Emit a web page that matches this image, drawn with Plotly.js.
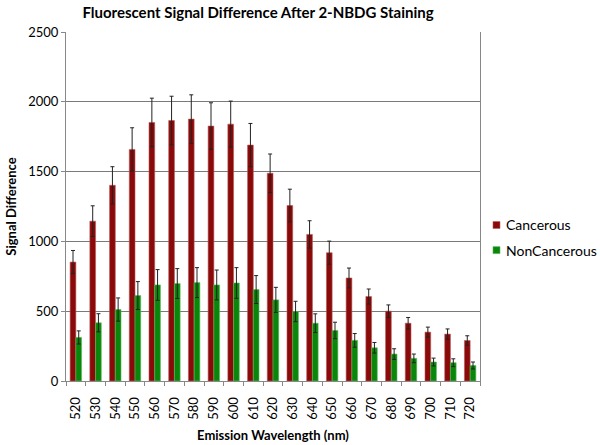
<!DOCTYPE html>
<html>
<head>
<meta charset="utf-8">
<script src="https://cdn.plot.ly/plotly-3.0.1.min.js"></script>
<style>html,body{margin:0;padding:0;background:#fff;}#chart{width:600px;height:445px;}</style>
</head>
<body>
<div id="chart"></div>
<script>
var wavelengths = ["520","530","540","550","560","570","580","590","600","610","620","630","640","650","660","670","680","690","700","710","720"];
var cancerous = [852,1145,1402,1659,1852,1866,1876,1826,1840,1690,1488,1257,1050,919,738,605,500,414,350,336,290];
var cancerousErr = [83,110,133,155,174,174,174,167,165,155,138,117,98,83,71,54,45,41,36,37,34];
var nonCancerous = [312,417,512,612,688,698,705,688,702,655,581,498,414,362,291,238,193,162,136,131,111];
var nonCancerousErr = [47,65,83,100,110,107,107,107,110,100,90,73,67,59,49,38,38,31,28,28,25];
var seriesNames = ["Cancerous", "NonCancerous"];
var seriesColors = ["#8a0a0a", "#0a870a"];
var seriesEdge = ["#b85a5a", "#5cb85c"];

var font = "Lato, 'Open Sans', sans-serif";

var traces = [
  {type:"bar", name:seriesNames[0], x:wavelengths, y:cancerous,
   marker:{color:seriesColors[0], line:{color:seriesEdge[0], width:0.6}},
   error_y:{type:"data", array:cancerousErr, visible:true, color:"#222", thickness:1, width:2}},
  {type:"bar", name:seriesNames[1], x:wavelengths, y:nonCancerous,
   marker:{color:seriesColors[1], line:{color:seriesEdge[1], width:0.6}},
   error_y:{type:"data", array:nonCancerousErr, visible:true, color:"#222", thickness:1, width:2}}
];

// manual legend (placed in the right margin without shrinking the plot)
var legendY = [0.447, 0.375];
var shapes = [], annotations = [];
for (var i = 0; i < seriesNames.length; i++) {
  shapes.push({type:"rect", xref:"paper", yref:"paper", x0:1.0314, x1:1.0483, y0:legendY[i]-0.010, y1:legendY[i]+0.010,
               fillcolor:seriesColors[i], line:{color:seriesEdge[i], width:0.6}});
  annotations.push({xref:"paper", yref:"paper", x:1.058, y:legendY[i], xanchor:"left", yanchor:"middle",
                    text:seriesNames[i], showarrow:false, font:{family:font, size:14, color:"#000"}});
}

var layout = {
  width:600, height:445,
  margin:{l:66, r:120, t:32, b:64},
  paper_bgcolor:"#fff", plot_bgcolor:"#fff",
  font:{family:font, size:12, color:"#000"},
  title:{text:"<b>Fluorescent Signal Difference After 2-NBDG Staining</b>", font:{family:font, size:15, color:"#000"}, x:0.43, xanchor:"center", y:0.972, yanchor:"middle"},
  barmode:"group", bargap:0.42, bargroupgap:0,
  showlegend:false,
  shapes:shapes, annotations:annotations,
  xaxis:{type:"category", tickangle:-90, showline:true, linecolor:"#888", linewidth:1, mirror:false,
         ticks:"outside", tickson:"boundaries", ticklen:4, tickcolor:"#888", showgrid:false,
         ticklabelstandoff:10, automargin:false,
         tickfont:{family:font, size:13, color:"#000"},
         title:{text:"<b>Emission Wavelength (nm)</b>", font:{family:font, size:13, color:"#000"}, standoff:12}},
  yaxis:{range:[0,2500], dtick:500, showline:true, linecolor:"#888", linewidth:1, mirror:true,
         ticks:"outside", ticklen:4, tickcolor:"#888", showgrid:true, gridcolor:"#7a7a7a", gridwidth:1,
         zeroline:false, tickfont:{family:font, size:13, color:"#000"},
         title:{text:"<b>Signal Difference</b>", font:{family:font, size:13, color:"#000"}, standoff:8}}
};

Plotly.newPlot("chart", traces, layout, {displayModeBar:false, staticPlot:true});
</script>
</body>
</html>
